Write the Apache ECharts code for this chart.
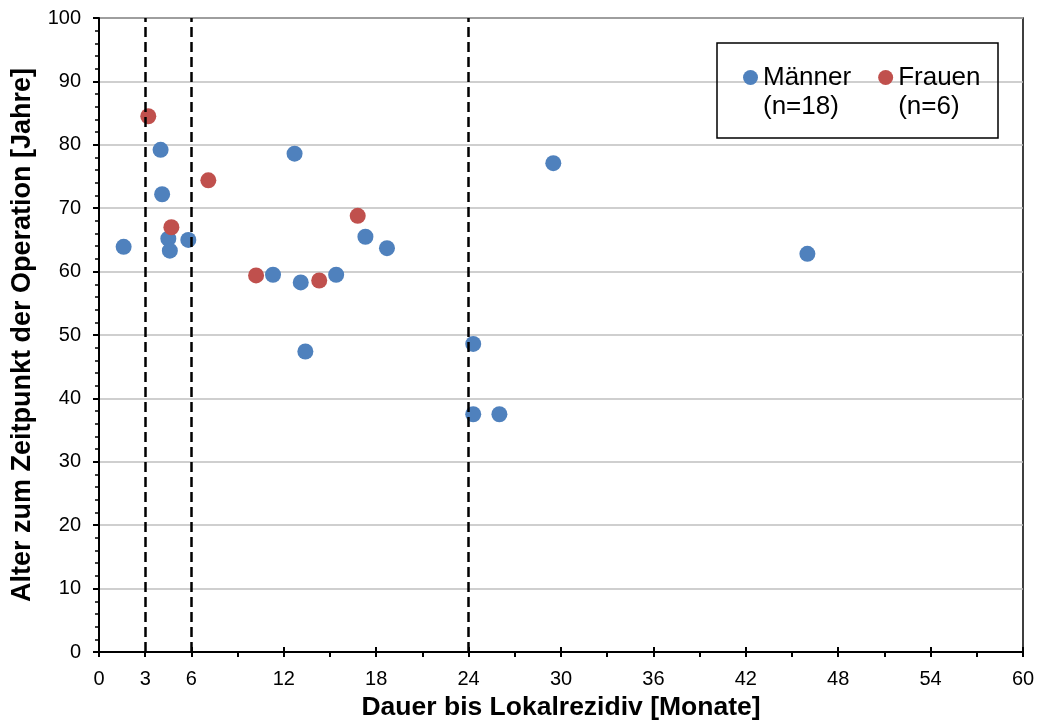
<!DOCTYPE html>
<html>
<head>
<meta charset="utf-8">
<script src="https://cdn.jsdelivr.net/npm/echarts@6/dist/echarts.min.js"></script>
<style>
  html, body { margin: 0; padding: 0; background: #fff; }
  #chart { width: 1041px; height: 725px; }
</style>
</head>
<body>
<div id="chart"></div>
<script>
// Dauer bis Lokalrezidiv [Monate], Alter [Jahre]
const maennerMonate = [1.6, 4.0, 4.1, 4.5, 4.6, 5.8, 11.3, 12.7, 13.1, 13.4, 15.4, 17.3, 18.7, 24.3, 24.3, 26.0, 29.5, 46.0];
const maennerAlter  = [63.9, 79.2, 72.2, 65.2, 63.3, 65.0, 59.5, 78.6, 58.3, 47.4, 59.5, 65.5, 63.7, 48.6, 37.5, 37.5, 77.1, 62.8];
const frauenMonate = [3.2, 4.7, 7.1, 10.2, 14.3, 16.8];
const frauenAlter  = [84.5, 67.0, 74.4, 59.4, 58.6, 68.8];
const grenzMonate = [3, 6, 24];
const xLabelsShown = [0, 3, 6, 12, 18, 24, 30, 36, 42, 48, 54, 60];

// leading blank line keeps the marker level with the first text line
const legendNames = {
  'Männer': '\u00a0\nMänner\n(n=18)',
  'Frauen': '\u00a0\nFrauen\n(n=6)'
};

const font = 'Liberation Sans, Arial, sans-serif';
const chart = echarts.init(document.getElementById('chart'));

const zip = (xs, ys) => xs.map((x, i) => [x, ys[i]]);

const option = {
  backgroundColor: '#fff',
  animation: false,
  textStyle: { fontFamily: font, color: '#000' },
  grid: {
    left: 99, right: 18, top: 18, bottom: 73,
    outerBoundsMode: 'none',
    show: true,
    borderColor: '#000',
    borderWidth: 1.5
  },
  legend: {
    left: 743,
    top: 34,
    padding: 0,
    itemWidth: 15,
    itemHeight: 15,
    itemGap: 27,
    icon: 'circle',
    data: ['Männer', 'Frauen'],
    formatter: name => legendNames[name],
    textStyle: {
      fontFamily: font,
      fontSize: 26,
      color: '#000',
      lineHeight: 29
    }
  },
  graphic: [{
    type: 'rect',
    shape: { x: 717, y: 43, width: 281, height: 95 },
    style: { fill: 'none', stroke: '#000', lineWidth: 1.5 },
    z: 5
  }],
  xAxis: [{
    type: 'value',
    min: 0,
    max: 60,
    interval: 3,
    name: 'Dauer bis Lokalrezidiv [Monate]',
    nameLocation: 'middle',
    nameGap: 41,
    nameTextStyle: { fontFamily: font, fontSize: 26.5, fontWeight: 'bold', color: '#000' },
    axisLine: { lineStyle: { color: '#000', width: 2 } },
    axisTick: { show: true, inside: false, length: 5, lineStyle: { color: '#000', width: 2 } },
    axisLabel: {
      fontFamily: font, fontSize: 20, color: '#000', margin: 17,
      formatter: v => xLabelsShown.includes(v) ? String(v) : ''
    },
    splitLine: { show: false }
  }, {
    type: 'value',
    position: 'bottom',
    min: 0,
    max: 60,
    interval: 6,
    axisLine: { show: false },
    axisTick: { show: true, inside: true, length: 5, lineStyle: { color: '#000', width: 2 } },
    axisLabel: { show: false },
    splitLine: { show: false }
  }],
  yAxis: {
    type: 'value',
    min: 0,
    max: 100,
    interval: 10,
    name: 'Alter zum Zeitpunkt der Operation [Jahre]',
    nameLocation: 'middle',
    nameGap: 63,
    nameTextStyle: { fontFamily: font, fontSize: 27, fontWeight: 'bold', color: '#000' },
    axisLine: { show: true, lineStyle: { color: '#000', width: 2 } },
    axisTick: { show: true, inside: false, length: 6, lineStyle: { color: '#000', width: 2 } },
    minorTick: { show: true, splitNumber: 5, length: 4, lineStyle: { color: '#000', width: 1.5 } },
    axisLabel: { fontFamily: font, fontSize: 20, color: '#000', margin: 18 },
    splitLine: { show: true, lineStyle: { color: '#bfbfbf', width: 1.5 } }
  },
  series: [
    {
      name: 'Männer',
      type: 'scatter',
      symbolSize: 16,
      itemStyle: { color: '#4F81BD', opacity: 1 },
      data: zip(maennerMonate, maennerAlter),
      z: 3,
      markLine: {
        silent: true,
        symbol: 'none',
        label: { show: false },
        lineStyle: { color: '#000', width: 2.5, type: [10, 5] },
        data: grenzMonate.map(m => ({ xAxis: m }))
      }
    },
    {
      name: 'Frauen',
      type: 'scatter',
      symbolSize: 16,
      itemStyle: { color: '#C0504D', opacity: 1 },
      data: zip(frauenMonate, frauenAlter),
      z: 3
    }
  ]
};

chart.setOption(option);
</script>
</body>
</html>
